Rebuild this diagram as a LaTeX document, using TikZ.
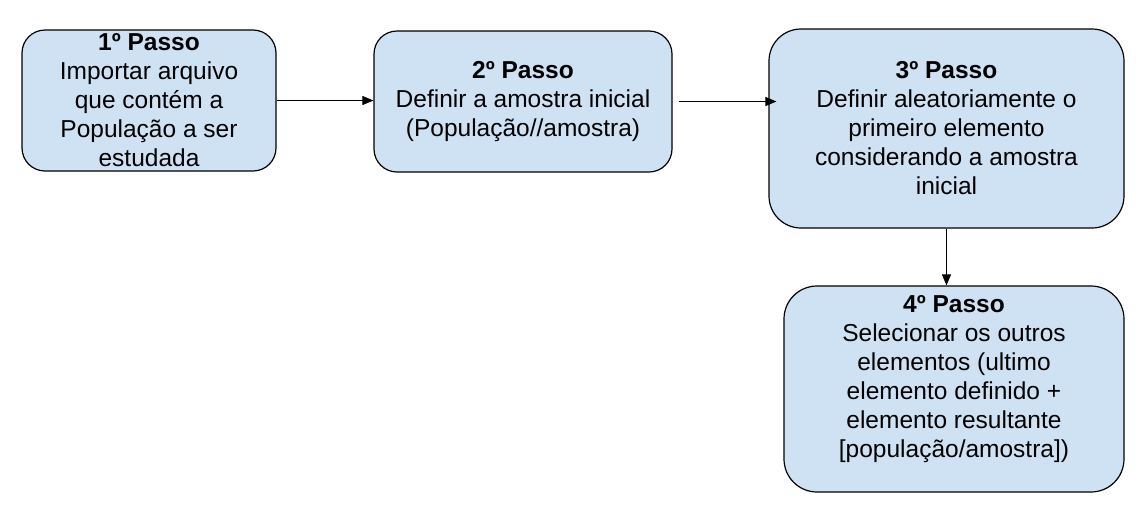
\documentclass[tikz,border=0pt]{standalone}
\usepackage{fontspec}
\setmainfont{Liberation Sans}
\usepackage{xcolor}
\usetikzlibrary{positioning,calc,arrows.meta}
\definecolor{passoblue}{HTML}{CFE2F3}

\begin{document}
\begin{tikzpicture}[x=1pt,y=-1pt,
    passo/.style={draw=black, line width=1.2pt, fill=passoblue, align=center,
        inner sep=0pt, font=\fontsize{24.5}{29}\selectfont},
    seta/.style={-{Triangle[length=11pt,width=9pt]}, line width=1pt}]
    \useasboundingbox (0,0) rectangle (1144,515);
    % caixas dos passos
    \node[passo, rounded corners=23pt, minimum width=254pt, minimum height=141pt] (p1) at (149,100.5)
        {\textbf{1º Passo}\\Importar arquivo\\que contém a\\População a ser\\estudada};
    \node[passo, rounded corners=23pt, minimum width=298pt, minimum height=141pt] (p2) at (523,101.5)
        {\textbf{2º Passo}\\Definir a amostra inicial\\(População//amostra)};
    \node[passo, rounded corners=32pt, minimum width=355pt, minimum height=199pt] (p3) at (946.5,128.5)
        {\textbf{3º Passo}\\Definir aleatoriamente o\\primeiro elemento\\considerando a amostra\\inicial};
    \node[passo, rounded corners=33pt, minimum width=340pt, minimum height=206pt] (p4) at (954,389)
        {\textbf{4º Passo}\\Selecionar os outros\\elementos (ultimo\\elemento definido +\\elemento resultante\\{[população/amostra]})\\[-4pt]\mbox{}};
    % setas
    \draw[seta] (p1.east) -- (p1.east -| p2.west);
    \draw[seta] ([xshift=6pt]p2.east) -- ([xshift=8pt]p2.east -| p3.west);
    \draw[seta] (p3.south) -- (p3.south |- p4.north);
\end{tikzpicture}
\end{document}
